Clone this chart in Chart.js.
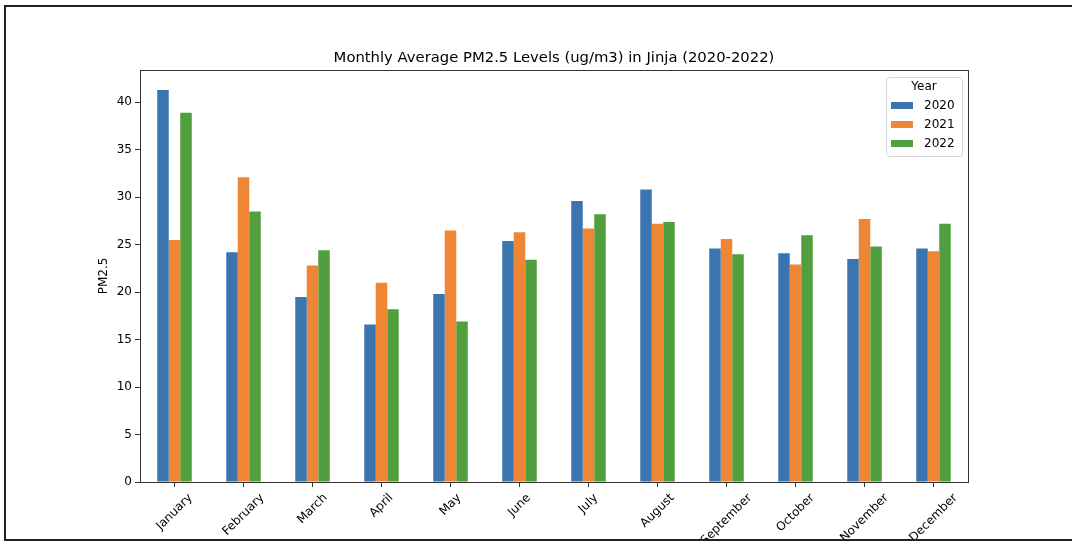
<!DOCTYPE html>
<html lang="en">
<head>
  <meta charset="UTF-8" />
  <title>Monthly Average PM2.5 Levels (ug/m3) in Jinja (2020-2022)</title>
  <script src="https://cdn.jsdelivr.net/npm/chart.js"></script>
  <style>
    body {
      margin: 0;
      background: #fff;
      width: 1072px;
      height: 542px;
      overflow: hidden;
    }
    .frame {
      position: absolute;
      left: 4px;
      top: 5px;
      width: 1068px;
      height: 532px;
      border-top: 2px solid #222;
      border-left: 2px solid #222;
      border-bottom: 2px solid #222;
      overflow: hidden;
      background: #fff;
    }
    canvas {
      display: block;
    }
  </style>
</head>
<body>

<div class="frame">
  <canvas id="chart" width="1066" height="532"></canvas>
</div>

<script>
  const months = ["January", "February", "March", "April", "May", "June",
                  "July", "August", "September", "October", "November", "December"];
  const years = ["2020", "2021", "2022"];
  const pm2020 = [41.3, 24.2, 19.5, 16.6, 19.8, 25.4, 29.6, 30.8, 24.6, 24.1, 23.5, 24.6];
  const pm2021 = [25.5, 32.1, 22.8, 21.0, 26.5, 26.3, 26.7, 27.2, 25.6, 22.9, 27.7, 24.3];
  const pm2022 = [38.9, 28.5, 24.4, 18.2, 16.9, 23.4, 28.2, 27.4, 24.0, 26.0, 24.8, 27.2];
  const yTicks = [0, 5, 10, 15, 20, 25, 30, 35, 40];
  const colors = ["#3b75af", "#ef8636", "#519e3e"];
  const chartTitle = 'Monthly Average PM2.5 Levels (ug/m3) in Jinja (2020-2022)';

  const font = '"DejaVu Sans", sans-serif';

  // axes frame (top and right spines too) + title centred over the axes
  const framePlugin = {
    id: 'frame',
    afterDatasetsDraw(chart) {
      const { ctx, chartArea: a } = chart;
      ctx.save();
      ctx.strokeStyle = '#333';
      ctx.lineWidth = 1;
      ctx.strokeRect(Math.round(a.left) + 0.5, Math.round(a.top) + 0.5,
                     Math.round(a.right - a.left), Math.round(a.bottom - a.top));
      ctx.fillStyle = '#000';
      ctx.font = '14.8px ' + font;
      ctx.textAlign = 'center';
      ctx.textBaseline = 'middle';
      ctx.fillText(chartTitle, (a.left + a.right) / 2, a.top - 12);
      ctx.restore();
    }
  };

  // matplotlib style rotated labels, centred under the tick
  const xLabelPlugin = {
    id: 'xlabels',
    afterDraw(chart) {
      const { ctx, chartArea: a } = chart;
      const xs = chart.scales.x;
      ctx.save();
      ctx.font = '12px ' + font;
      ctx.fillStyle = '#000';
      ctx.textAlign = 'center';
      ctx.textBaseline = 'middle';
      months.forEach((m, i) => {
        const x = xs.getPixelForValue(i);
        const w = ctx.measureText(m).width;
        const side = (w + 14) * Math.SQRT1_2;
        const cy = a.bottom + 9 + side / 2;
        ctx.save();
        ctx.translate(x, cy);
        ctx.rotate(-Math.PI / 4);
        ctx.fillText(m, 0, 0);
        ctx.restore();
      });
      ctx.restore();
    }
  };

  // legend with title inside the axes, upper right
  const legendPlugin = {
    id: 'boxlegend',
    afterDraw(chart) {
      const { ctx, chartArea: a } = chart;
      const w = 76, h = 79;
      const x0 = a.right - 6 - w, y0 = a.top + 7;
      ctx.save();
      ctx.fillStyle = 'rgba(255,255,255,0.8)';
      ctx.strokeStyle = '#d6d6d6';
      ctx.lineWidth = 1;
      ctx.beginPath();
      ctx.roundRect(x0 + 0.5, y0 + 0.5, w, h, 3);
      ctx.fill();
      ctx.stroke();
      ctx.fillStyle = '#000';
      ctx.font = '12px ' + font;
      ctx.textAlign = 'center';
      ctx.textBaseline = 'middle';
      ctx.fillText('Year', x0 + w / 2, y0 + 10);
      ctx.textAlign = 'left';
      chart.data.datasets.forEach((ds, i) => {
        const cy = y0 + 28 + i * 19;
        ctx.fillStyle = ds.backgroundColor;
        ctx.fillRect(x0 + 5, cy - 3, 22, 7);
        ctx.fillStyle = '#000';
        ctx.fillText(ds.label, x0 + 38, cy + 1);
      });
      ctx.restore();
    }
  };

  new Chart(document.getElementById('chart'), {
    type: 'bar',
    data: {
      labels: months,
      datasets: [
        { label: years[0], data: pm2020, backgroundColor: colors[0] },
        { label: years[1], data: pm2021, backgroundColor: colors[1] },
        { label: years[2], data: pm2022, backgroundColor: colors[2] }
      ]
    },
    options: {
      responsive: false,
      animation: false,
      datasets: {
        bar: { categoryPercentage: 0.5, barPercentage: 1.0, borderWidth: 0 }
      },
      layout: { padding: { left: 87, right: 104, top: 63, bottom: 0 } },
      plugins: {
        legend: { display: false },
        tooltip: { enabled: false },
        title: { display: false }
      },
      scales: {
        x: {
          offset: true,
          grid: { display: true, drawOnChartArea: false, offset: false, tickLength: 5, color: '#333' },
          border: { color: '#333' },
          ticks: { display: false },
          afterFit(scale) { scale.height = 57; }
        },
        y: {
          min: 0,
          max: 43.4,
          grid: { display: true, drawOnChartArea: false, tickLength: 5, color: '#333' },
          border: { color: '#333' },
          ticks: { color: '#000', padding: 3, font: { family: font, size: 12 } },
          afterBuildTicks(scale) { scale.ticks = yTicks.map(v => ({ value: v })); },
          title: {
            display: true,
            text: 'PM2.5',
            color: '#000',
            font: { family: font, size: 12 },
            padding: { top: 4, bottom: 4 }
          },
          afterFit(scale) { scale.width = 47; }
        }
      }
    },
    plugins: [framePlugin, xLabelPlugin, legendPlugin]
  });
</script>

</body>
</html>
